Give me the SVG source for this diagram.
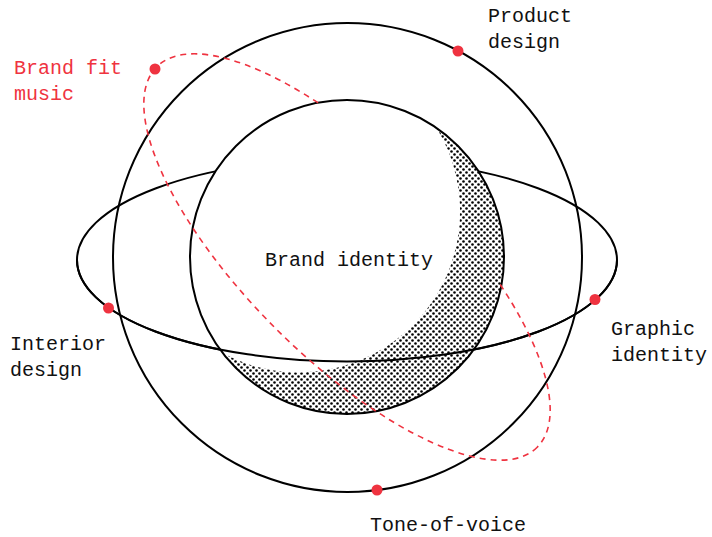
<svg xmlns="http://www.w3.org/2000/svg" width="712" height="537" viewBox="0 0 712 537">
  <style>
    .line { fill: none; stroke: #000; stroke-width: 2; }
    .dash { fill: none; stroke: #ef3340; stroke-width: 1.6; stroke-dasharray: 6 5; }
    .dot { fill: #ef3340; }
    .lbl { font-family: "Liberation Mono", "DejaVu Sans Mono", monospace; font-size: 20px; fill: #111; }
    .red { fill: #ef3340; }
  </style>
  <defs>
    <pattern id="dots" width="6" height="6" patternUnits="userSpaceOnUse">
      <circle cx="1.5" cy="1.5" r="1.3" fill="#000"/>
      <circle cx="4.5" cy="4.5" r="1.3" fill="#000"/>
    </pattern>
    <mask id="behind" maskUnits="userSpaceOnUse" x="0" y="0" width="712" height="537">
      <rect x="0" y="0" width="712" height="537" fill="#fff"/>
      <path d="M236 146 A157 157 0 0 1 458 368 Z" fill="#000"/>
    </mask>
  </defs>

  <g id="outer-circle">
    <circle class="line" cx="347.5" cy="257.5" r="234.5"/>
  </g>

  <g id="orbit-horizontal-back">
    <ellipse class="line" cx="347" cy="260" rx="270" ry="101.5"/>
  </g>

  <g id="brand-identity">
    <circle cx="347" cy="257" r="157" fill="#fff"/>
    <path d="M437 128.4 A157 157 0 1 1 223 353.3 A161 161 0 0 0 437 128.4 Z" fill="url(#dots)"/>
    <circle class="line" cx="347" cy="257" r="157"/>
    <text class="lbl" x="265" y="266">Brand identity</text>
  </g>

  <g id="connectors">
    <path id="orbit-horizontal-front" class="line" d="M77 260 A270 101.5 0 0 0 617 260"/>
    <g id="orbit-dashed" mask="url(#behind)">
      <ellipse class="dash" cx="347" cy="257" rx="269" ry="101" transform="rotate(45 347 257)"/>
    </g>
  </g>

  <g id="product-design">
    <circle class="dot" cx="458" cy="51" r="5.5"/>
    <text class="lbl" x="488" y="22">Product</text>
    <text class="lbl" x="488" y="48">design</text>
  </g>

  <g id="brand-fit-music">
    <circle class="dot" cx="155" cy="69" r="5.5"/>
    <text class="lbl red" x="14" y="74">Brand fit</text>
    <text class="lbl red" x="14" y="100">music</text>
  </g>

  <g id="interior-design">
    <circle class="dot" cx="108.5" cy="308" r="5.5"/>
    <text class="lbl" x="10" y="350">Interior</text>
    <text class="lbl" x="10" y="376">design</text>
  </g>

  <g id="graphic-identity">
    <circle class="dot" cx="595" cy="299.5" r="5.5"/>
    <text class="lbl" x="611" y="335">Graphic</text>
    <text class="lbl" x="611" y="361">identity</text>
  </g>

  <g id="tone-of-voice">
    <circle class="dot" cx="377" cy="490" r="5.5"/>
    <text class="lbl" x="370" y="531">Tone-of-voice</text>
  </g>
</svg>
